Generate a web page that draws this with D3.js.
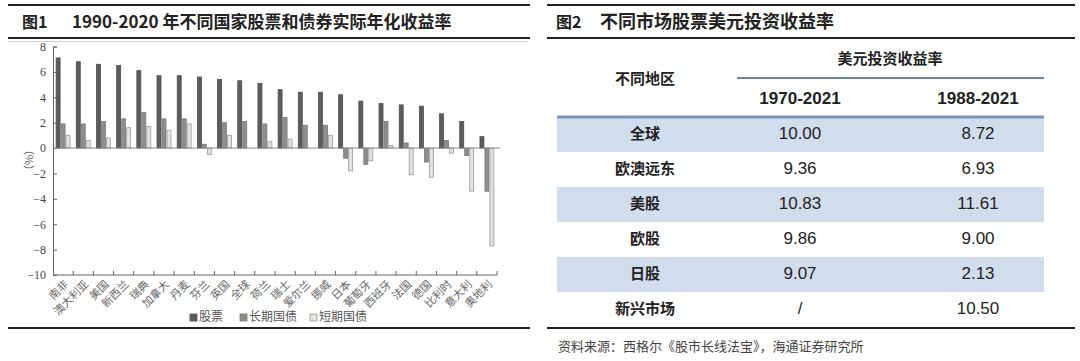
<!DOCTYPE html>
<html>
<head>
<meta charset="utf-8">
<script src="https://cdn.jsdelivr.net/npm/d3@7"></script>
<style>
  html, body { margin: 0; padding: 0; background: #fff; }
  svg { display: block; }
  .cjk { font-family: "Noto Sans CJK SC", "Noto Sans", sans-serif; }
  .serif { font-family: "Liberation Serif", "DejaVu Serif", serif; }
  .num { font-family: "Liberation Sans", Arial, sans-serif; }
</style>
</head>
<body>
<svg id="chart" width="1080" height="361"></svg>
<script>
// ---- data: figure 1 ----
const countries = ["南非", "澳大利亚", "美国", "新西兰", "瑞典", "加拿大", "丹麦", "芬兰", "英国", "全球", "荷兰",
    "瑞士", "爱尔兰", "挪威", "日本", "葡萄牙", "西班牙", "法国", "德国", "比利时", "意大利", "奥地利"];
const stocks = [7.1, 6.8, 6.6, 6.5, 6.1, 5.7, 5.7, 5.6, 5.4, 5.3, 5.1, 4.6, 4.4, 4.4, 4.2, 3.7, 3.5, 3.4, 3.3, 2.7, 2.1, 0.9];
const longBonds = [1.9, 1.9, 2.1, 2.3, 2.8, 2.3, 2.3, 0.3, 2.0, 2.1, 1.9, 2.4, 1.8, 1.8, -0.8, -1.3, 2.1, 0.4, -1.1, 0.6, -0.6, -3.4];
const shortBonds = [1.0, 0.6, 0.8, 1.6, 1.7, 1.4, 1.9, -0.5, 1.0, 0.0, 0.5, 0.7, 0.0, 1.0, -1.8, -1.0, 0.2, -2.1, -2.3, -0.4, -3.4, -7.7];
const seriesNames = ["股票", "长期国债", "短期国债"];
const yTicks = [8, 6, 4, 2, 0, -2, -4, -6, -8, -10];

// ---- data: figure 2 ----
const regions = ["全球", "欧澳远东", "美股", "欧股", "日股", "新兴市场"];
const ret1970 = [10.00, 9.36, 10.83, 9.86, 9.07, null];
const ret1988 = [8.72, 6.93, 11.61, 9.00, 2.13, 10.50];
const periods = ["1970-2021", "1988-2021"];

const svg = d3.select("#chart");

// ================= left: bar chart =================
const left = svg.append("g");

// title rules
left.append("line").attr("x1", 8).attr("x2", 530).attr("y1", 5).attr("y2", 5)
    .attr("stroke", "#222").attr("stroke-width", 2);
left.append("line").attr("x1", 8).attr("x2", 530).attr("y1", 38).attr("y2", 38)
    .attr("stroke", "#222").attr("stroke-width", 2);
left.append("text").attr("class", "cjk").attr("x", 22).attr("y", 28)
    .attr("font-size", 16).attr("font-weight", "bold").attr("fill", "#222").text("图1");
left.append("text").attr("class", "cjk").attr("x", 72).attr("y", 28)
    .attr("font-size", 17).attr("font-weight", "bold").attr("fill", "#222")
    .text("1990-2020 年不同国家股票和债券实际年化收益率");

// frame line of the picture
left.append("line").attr("x1", 8).attr("x2", 528).attr("y1", 41.5).attr("y2", 41.5)
    .attr("stroke", "#cfcfcf").attr("stroke-width", 1);

const x0 = d3.scaleBand().domain(countries).range([53, 497]).paddingInner(0.26).paddingOuter(0.13);
const x1 = d3.scaleBand().domain(seriesNames).range([0, x0.bandwidth()]).padding(0);
const y = d3.scaleLinear().domain([-10, 8]).range([275, 46.5]);

// y axis
const yAxis = d3.axisLeft(y).tickValues(yTicks).tickSize(-4).tickPadding(7)
    .tickFormat(d => d < 0 ? "−" + Math.abs(d) : d);
left.append("g").attr("transform", "translate(53,0)").call(yAxis)
    .call(g => g.select(".domain").attr("stroke", "#666"))
    .call(g => g.selectAll(".tick line").attr("stroke", "#666"))
    .call(g => g.selectAll(".tick text").attr("class", "serif").attr("font-size", 12).attr("fill", "#444"));

left.append("text").attr("class", "cjk").attr("font-size", 11).attr("fill", "#555")
    .attr("transform", "translate(33,160) rotate(-90)").attr("text-anchor", "middle").text("（%）");

// x axis (ticks on category boundaries)
const bounds = countries.map(c => x0(c) - x0.step() * x0.paddingInner() / 2).concat([497]);
left.append("line").attr("x1", 53).attr("x2", 497).attr("y1", y(-10)).attr("y2", y(-10))
    .attr("stroke", "#666");
left.append("g").selectAll("line").data(bounds.slice(1)).join("line")
    .attr("x1", d => d).attr("x2", d => d).attr("y1", y(-10)).attr("y2", y(-10) - 4)
    .attr("stroke", "#666");

left.append("g").selectAll("text").data(countries).join("text")
    .attr("class", "cjk").attr("font-size", 11).attr("fill", "#666").attr("text-anchor", "end")
    .attr("transform", d => `translate(${x0(d) + x0.bandwidth() / 2 + 6},${y(-10) + 10}) rotate(-45)`)
    .text(d => d);

// bars
const fills = ["#5c5c5c", "#8e8e8e", "#e2e2e2"];
const strokes = ["#4e4e4e", "#7a7a7a", "#9a9a9a"];
const rows = countries.map((c, i) => ({ c, vals: [stocks[i], longBonds[i], shortBonds[i]] }));
const groups = left.append("g").selectAll("g").data(rows).join("g")
    .attr("transform", d => `translate(${x0(d.c)},0)`);
groups.selectAll("rect").data(d => d.vals.map((v, k) => ({ v, k }))).join("rect")
    .attr("x", d => x1(seriesNames[d.k]) + 0.5)
    .attr("width", x1.bandwidth() - 1)
    .attr("y", d => y(Math.max(0, d.v)))
    .attr("height", d => Math.abs(y(d.v) - y(0)))
    .attr("fill", d => fills[d.k])
    .attr("stroke", d => strokes[d.k])
    .attr("stroke-width", 0.8);

// zero line
left.append("line").attr("x1", 53).attr("x2", 500).attr("y1", y(0)).attr("y2", y(0))
    .attr("stroke", "#888").attr("stroke-width", 1);

// legend
const legendX = [190, 240, 310];
const leg = left.append("g").selectAll("g").data(seriesNames).join("g")
    .attr("transform", (d, i) => `translate(${legendX[i]},321)`);
leg.append("rect").attr("x", 0).attr("y", -7).attr("width", 7).attr("height", 7)
    .attr("fill", (d, i) => fills[i]).attr("stroke", (d, i) => strokes[i]).attr("stroke-width", 0.8);
leg.append("text").attr("class", "cjk").attr("x", 9).attr("y", 0).attr("font-size", 12)
    .attr("fill", "#555").text(d => d);

left.append("line").attr("x1", 8).attr("x2", 530).attr("y1", 328).attr("y2", 328)
    .attr("stroke", "#222").attr("stroke-width", 2);

// ================= right: table =================
const right = svg.append("g");
right.append("line").attr("x1", 547).attr("x2", 1075).attr("y1", 5).attr("y2", 5)
    .attr("stroke", "#222").attr("stroke-width", 2);
right.append("line").attr("x1", 547).attr("x2", 1075).attr("y1", 38).attr("y2", 38)
    .attr("stroke", "#222").attr("stroke-width", 2);
right.append("text").attr("class", "cjk").attr("x", 556).attr("y", 28)
    .attr("font-size", 16).attr("font-weight", "bold").attr("fill", "#222").text("图2");
right.append("text").attr("class", "cjk").attr("x", 600).attr("y", 28)
    .attr("font-size", 18).attr("font-weight", "bold").attr("fill", "#222").text("不同市场股票美元投资收益率");

const colX = [645, 800, 978];
const rowY = d3.scaleBand().domain(regions).range([117, 327]).padding(0);

// header
right.append("text").attr("class", "cjk").attr("x", 890).attr("y", 64).attr("text-anchor", "middle")
    .attr("font-size", 15).attr("font-weight", "bold").attr("fill", "#222").text("美元投资收益率");
right.append("text").attr("class", "cjk").attr("x", colX[0]).attr("y", 84).attr("text-anchor", "middle")
    .attr("font-size", 15).attr("font-weight", "bold").attr("fill", "#222").text("不同地区");
right.append("line").attr("x1", 737).attr("x2", 1044).attr("y1", 78).attr("y2", 78)
    .attr("stroke", "#6d85ab").attr("stroke-width", 2);
right.selectAll("text.period").data(periods).join("text").attr("class", "num period")
    .attr("x", (d, i) => colX[i + 1]).attr("y", 104).attr("text-anchor", "middle")
    .attr("font-size", 17).attr("font-weight", "bold").attr("fill", "#222").text(d => d);

// row stripes
right.append("g").selectAll("rect").data(regions.filter((d, i) => i % 2 === 0)).join("rect")
    .attr("x", 557).attr("width", 487).attr("y", d => rowY(d)).attr("height", rowY.bandwidth())
    .attr("fill", "#d1dcec");
right.append("line").attr("x1", 557).attr("x2", 1044).attr("y1", 117).attr("y2", 117)
    .attr("stroke", "#7d95bb").attr("stroke-width", 3);

const cells = right.append("g").selectAll("g").data(regions).join("g")
    .attr("transform", d => `translate(0,${rowY(d) + rowY.bandwidth() / 2 + 4})`);
cells.append("text").attr("class", "cjk").attr("x", colX[0]).attr("text-anchor", "middle")
    .attr("font-size", 15).attr("font-weight", "bold").attr("fill", "#222").text(d => d);
cells.append("text").attr("class", "num").attr("x", colX[1]).attr("text-anchor", "middle")
    .attr("font-size", 17).attr("fill", "#222")
    .text((d, i) => ret1970[i] == null ? "/" : ret1970[i].toFixed(2));
cells.append("text").attr("class", "num").attr("x", colX[2]).attr("text-anchor", "middle")
    .attr("font-size", 17).attr("fill", "#222")
    .text((d, i) => ret1988[i].toFixed(2));

right.append("line").attr("x1", 547).attr("x2", 1075).attr("y1", 328).attr("y2", 328)
    .attr("stroke", "#222").attr("stroke-width", 2);
right.append("text").attr("class", "cjk").attr("x", 558).attr("y", 351)
    .attr("font-size", 13).attr("fill", "#444").text("资料来源：西格尔《股市长线法宝》，海通证券研究所");
</script>
</body>
</html>
